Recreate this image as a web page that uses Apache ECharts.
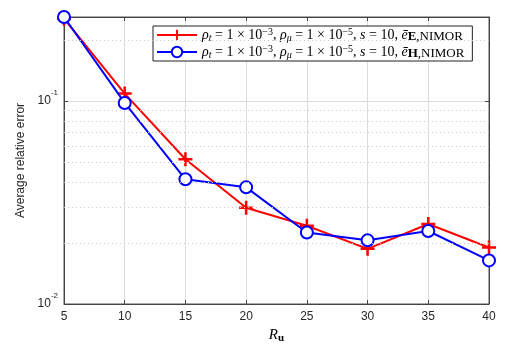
<!DOCTYPE html>
<html><head><meta charset="utf-8">
<script src="https://cdn.jsdelivr.net/npm/echarts@6/dist/echarts.min.js"></script>
<style>html,body{margin:0;padding:0;background:#fff}#c{width:516px;height:344px}</style>
</head><body><div id="c"></div>
<script>
var xValues = [5, 10, 15, 20, 25, 30, 35, 40];
var errE = [0.255, 0.109, 0.0517, 0.0298, 0.0243, 0.0187, 0.0248, 0.0190];
var errH = [0.260, 0.098, 0.0412, 0.0376, 0.0225, 0.0206, 0.0229, 0.0164];
var yTicks = [0.01, 0.1];
var yMinorGrid = [0.02, 0.03, 0.04, 0.05, 0.06, 0.07, 0.08, 0.09, 0.2];
var seriesNames = ['E', 'H'];

var chart = echarts.init(document.getElementById('c'), null, {renderer: 'canvas'});
function pairs(v) { return xValues.map(function (x, i) { return [x, v[i]]; }); }
var plus = 'path://M4.1,0 H5.9 V4.1 H10 V5.9 H5.9 V10 H4.1 V5.9 H0 V4.1 H4.1 Z';
var sansFont = '"Liberation Sans", Arial, sans-serif';
var serif = '"Liberation Serif", "DejaVu Serif", serif';
function supLabel(v) {
  var e = Math.round(Math.log10(v));
  if (Math.abs(Math.log10(v) - e) > 1e-6) return '';
  return '{b|10}{s|' + e + '}';
}
var LH = 16;
var legendRich = {
  i: {fontFamily: serif, fontStyle: 'italic', fontSize: 14, lineHeight: LH, color: '#000'},
  n: {fontFamily: serif, fontSize: 14, lineHeight: LH, color: '#000'},
  sub: {fontFamily: serif, fontStyle: 'italic', fontSize: 10, lineHeight: 8, verticalAlign: 'bottom', color: '#000'},
  sup: {fontFamily: serif, fontSize: 10, lineHeight: 8, verticalAlign: 'top', color: '#000'},
  sb: {fontFamily: serif, fontWeight: 'bold', fontSize: 13, lineHeight: 11, verticalAlign: 'bottom', color: '#000'},
  sn: {fontFamily: serif, fontSize: 13, lineHeight: 11, verticalAlign: 'bottom', color: '#000'}
};
chart.setOption({
  animation: false,
  grid: {left: 64, right: 27, top: 17, bottom: 40, show: true, borderColor: '#555', borderWidth: 1, outerBoundsMode: 'none', containLabel: false},
  legend: {
    top: 26, left: 153, orient: 'vertical', itemGap: 1, itemWidth: 40, itemHeight: 13,
    backgroundColor: '#fff', borderColor: '#222', borderWidth: 1, padding: [1, 8, 1, 3],
    data: seriesNames,
    formatter: function (name) {
      return '{i|ρ}{sub|t}{n| = 1 × 10}{sup|−3}{n|, }{i|ρ}{sub|μ}{n| = 1 × 10}{sup|−5}{n|, }{i|s}{n| = 10, }{i|ē}{sb|' + name + '}{sn|,NIMOR}';
    },
    textStyle: {rich: legendRich}
  },
  xAxis: [{
    type: 'value', min: 5, max: 40, interval: 5,
    axisLine: {show: true, lineStyle: {color: '#444', width: 1}},
    axisTick: {inside: true, length: 4, lineStyle: {color: '#444'}},
    axisLabel: {color: '#262626', fontSize: 12, fontFamily: sansFont, margin: 7},
    splitLine: {show: true, lineStyle: {color: '#dcdcdc', width: 1}},
    name: '{r|R}{u|u}', nameLocation: 'middle', nameGap: 23,
    nameTextStyle: {rich: {
      r: {fontFamily: serif, fontStyle: 'italic', fontSize: 15, color: '#000', lineHeight: 16},
      u: {fontFamily: serif, fontWeight: 'bold', fontSize: 11, color: '#000', lineHeight: 16, verticalAlign: 'bottom'}
    }}
  }, {
    type: 'value', position: 'top', min: 5, max: 40, interval: 5,
    axisLine: {show: true, lineStyle: {color: '#444'}},
    axisTick: {inside: true, length: 4, lineStyle: {color: '#444'}},
    axisLabel: {show: false}, splitLine: {show: false}
  }],
  yAxis: [{
    type: 'log', logBase: 10, min: 0.01, max: 0.26,
    axisLine: {show: true, lineStyle: {color: '#444', width: 1}},
    axisTick: {inside: true, length: 4, lineStyle: {color: '#444'}},
    axisLabel: {
      formatter: supLabel, showMaxLabel: false, margin: 6,
      rich: {
        b: {fontSize: 12, fontFamily: sansFont, color: '#262626'},
        s: {fontSize: 8, fontFamily: sansFont, color: '#262626', verticalAlign: 'top', padding: [-6, 0, 0, 0]}
      }
    },
    splitLine: {show: true, lineStyle: {color: '#dcdcdc', width: 1}},
    name: 'Average relative error', nameLocation: 'middle', nameGap: 28, nameRotate: 90,
    nameTextStyle: {fontSize: 12, fontFamily: sansFont, color: '#262626'}
  }, {
    type: 'log', logBase: 10, min: 0.01, max: 0.26, position: 'right',
    axisLine: {show: true, lineStyle: {color: '#444'}},
    axisTick: {inside: true, length: 4, lineStyle: {color: '#444'}},
    axisLabel: {show: false}, splitLine: {show: false}
  }],
  series: [{
    name: 'grid', type: 'line', data: [], z: 1, silent: true,
    markLine: {
      silent: true, symbol: 'none', label: {show: false},
      lineStyle: {color: '#c8c8c8', type: [1, 3], width: 1},
      data: yMinorGrid.map(function (v) { return {yAxis: v}; })
    }
  }, {
    name: 'E', type: 'line', data: pairs(errE), z: 3,
    color: '#ff0000', symbol: plus, symbolSize: 14,
    lineStyle: {color: '#ff0000', width: 2},
    itemStyle: {color: '#ff0000'}
  }, {
    name: 'H', type: 'line', data: pairs(errH), z: 4,
    color: '#0000ff', symbol: 'emptyCircle', symbolSize: 12,
    lineStyle: {color: '#0000ff', width: 2},
    itemStyle: {color: '#0000ff', borderColor: '#0000ff', borderWidth: 2.5}
  }]
});
</script></body></html>
